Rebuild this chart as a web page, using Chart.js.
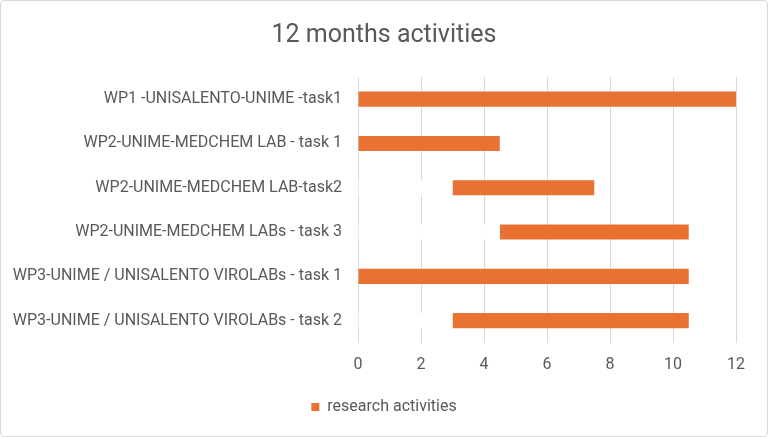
<!DOCTYPE html>
<html>
<head>
<meta charset="utf-8">
<script src="https://cdn.jsdelivr.net/npm/chart.js@4"></script>
<style>
  html, body { margin: 0; padding: 0; background: #ffffff; }
  #wrap { position: relative; width: 768px; height: 437px; }
  #frame { position: absolute; left: 0; top: 0; width: 766px; height: 435px;
           border: 1px solid #d9d9d9; border-radius: 4px; pointer-events: none; }
</style>
</head>
<body>
<div id="wrap">
  <canvas id="myChart" width="768" height="437"></canvas>
  <div id="frame"></div>
</div>
<script>
// 작업 목록 (위에서 아래 순서)
const tasks = [
    'WP1 -UNISALENTO-UNIME -task1',
    'WP2-UNIME-MEDCHEM LAB - task 1',
    'WP2-UNIME-MEDCHEM LAB-task2',
    'WP2-UNIME-MEDCHEM LABs - task 3',
    'WP3-UNIME / UNISALENTO VIROLABs - task 1',
    'WP3-UNIME / UNISALENTO VIROLABs - task 2'
];
// 시작 월 (흰색 막대로 가려짐)
const startMonth = [0, 0, 3, 4.5, 0, 3];
// 기간 (월)
const duration = [12, 4.5, 4.5, 6, 10.5, 7.5];
const xTicks = [0, 2, 4, 6, 8, 10, 12];

const textColor = '#595959';
const fontFamily = 'Roboto, "Liberation Sans", sans-serif';

let ctx = document.getElementById('myChart');
new Chart(ctx, {
    type: 'bar',
    data: {
        labels: tasks,
        datasets: [{
            label: 'start',
            data: startMonth,
            backgroundColor: '#ffffff',
            barPercentage: 0.34,
            categoryPercentage: 1
        }, {
            label: 'research activities',
            data: duration,
            backgroundColor: '#e97132',
            barPercentage: 0.34,
            categoryPercentage: 1
        }]
    },
    options: {
        indexAxis: 'y',
        responsive: false,
        animation: false,
        layout: {
            padding: { left: 0, right: 0, top: 0, bottom: 12 }
        },
        plugins: {
            title: {
                display: true,
                text: '12 months activities',
                color: textColor,
                font: { family: fontFamily, size: 25, weight: 'normal' },
                padding: { top: 21, bottom: 26 }
            },
            legend: {
                display: true,
                position: 'bottom',
                labels: {
                    filter: function(item) { return item.text !== 'start'; },   // 흰색 막대는 범례에서 제외
                    boxWidth: 8,
                    boxHeight: 8,
                    color: textColor,
                    font: { family: fontFamily, size: 16 }
                }
            },
            tooltip: { enabled: false }
        },
        scales: {
            x: {
                stacked: true,
                min: 0,
                max: 12,
                afterBuildTicks: function(scale) {
                    scale.ticks = xTicks.map(function(v) { return { value: v }; });
                },
                ticks: {
                    color: textColor,
                    font: { family: fontFamily, size: 16 },
                    padding: 13
                },
                grid: {
                    color: '#d9d9d9',
                    lineWidth: 1,
                    drawTicks: false
                },
                border: { display: false },
                afterFit: function(scale) { scale.height += 1; }
            },
            y: {
                stacked: true,
                ticks: {
                    color: textColor,
                    font: { family: fontFamily, size: 16 },
                    padding: 16
                },
                grid: { display: false, drawTicks: false },
                border: { display: false },
                afterFit: function(scale) { scale.width = 358; }
            },
            // 오른쪽 여백용 빈 축
            yRight: {
                type: 'category',
                position: 'right',
                ticks: { display: false },
                grid: { display: false, drawTicks: false },
                border: { display: false },
                afterFit: function(scale) { scale.width = 32; }
            }
        }
    }
});
</script>
</body>
</html>
